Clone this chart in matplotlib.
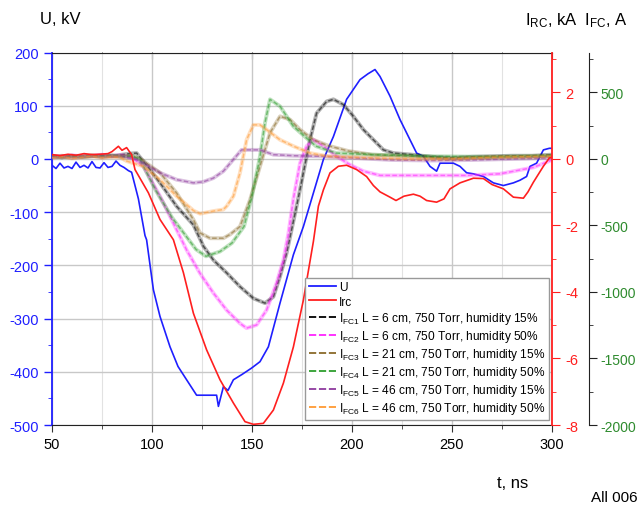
import matplotlib
matplotlib.use("Agg")
import matplotlib.pyplot as plt
from matplotlib.lines import Line2D
from matplotlib.ticker import MultipleLocator

plt.rcParams["font.family"] = ["Liberation Sans", "DejaVu Sans"]
plt.rcParams["mathtext.fontset"] = "custom"
plt.rcParams["mathtext.rm"] = "Liberation Sans"
plt.rcParams["mathtext.it"] = "Liberation Sans"
plt.rcParams["axes.unicode_minus"] = False

# voltage, kV
u_t = [50, 52, 54, 56, 58, 60, 62, 64, 66, 68, 70, 72, 74, 76, 78, 80, 82, 84, 86, 88.2,
       89.8, 93.2, 96.5, 97.3, 100.7, 104, 109, 113, 117.3, 122.3, 132.3, 133.2, 135.7, 138,
       140.7, 145, 149.8, 154, 158.2, 164, 170.7, 175.7, 180.7, 185.7, 190.7, 197.3, 204, 208,
       211.5, 214, 219, 224, 229, 232.3, 235.7, 239, 242.3, 244, 250.7, 254, 257.3, 260.7,
       265.7, 270.7, 275.7, 280.7, 284, 287.3, 289, 292.3, 295.7, 298.7, 300]
u_kv = [-12, -18, -8, -17, -14, -18, -6, -16, -12, -17, -5, -16, -17, -7, -16, -14, -4, -12,
        -16, -22, -25, -75, -144, -152, -246, -296, -353, -390, -415, -444, -444, -465, -428,
        -435, -415, -405, -393, -381, -353, -271, -180, -127, -64, -1, 42, 112, 149, 160, 168,
        155, 118, 74, 36, 11, 5, -14, -23, -8, -8, -14, -26, -28, -33, -45, -50, -45, -40, -33,
        -14, -8, 17, 20, 20]

# return-conductor current, kA
irc_t = [50, 54, 58, 62, 66, 70, 74, 78, 80, 83.2, 85, 87.3, 89.8, 91.5, 98.2, 104, 110.7,
         115.7, 120.7, 127.3, 134, 140.7, 146.5, 150.7, 155.7, 160.7, 165.7, 170.7, 175.7,
         180.7, 183.2, 185.7, 189, 193.2, 197.3, 202.3, 207.3, 210.7, 214, 219, 222, 226,
         230.7, 234, 237.3, 242.3, 246, 249, 254, 260.7, 265.7, 270, 275.7, 280.7, 285.7, 288,
         290.7, 295.7, 298.7, 300]
irc_ka = [0.13, 0.10, 0.14, 0.11, 0.16, 0.13, 0.14, 0.16, 0.22, 0.38, 0.26, 0.34, 0.13, -0.32,
          -1.02, -1.82, -2.43, -3.42, -4.64, -5.74, -6.64, -7.34, -7.90, -7.98, -7.95, -7.55,
          -6.74, -5.65, -4.24, -2.48, -1.42, -0.93, -0.42, -0.22, -0.19, -0.32, -0.53, -0.80,
          -0.99, -1.15, -1.25, -1.12, -1.06, -1.12, -1.25, -1.30, -1.20, -0.90, -0.72, -0.58,
          -0.59, -0.77, -0.90, -1.15, -1.18, -0.99, -0.70, -0.22, 0.03, 0.05]

# Faraday cup currents, A
fc1_t = [50, 55, 60, 65, 70, 75, 80, 85, 89, 92.3, 98, 104, 112.3, 120.7, 125.7, 130.7, 137.3,
         144, 150.7, 156.5, 160.7, 164, 167.3, 172.3, 175.7, 179, 182.3, 187.3, 190.7, 195.7,
         200.7, 205.7, 210.7, 215.7, 220.7, 230, 240, 250, 260, 270, 280, 290, 300]
fc1_a = [20, 12, 24, 16, 20, 28, 20, 32, 40, 44, -60, -180, -356, -496, -656, -760, -856, -960,
         -1048, -1084, -1036, -884, -708, -356, -104, 144, 344, 432, 448, 408, 320, 220, 144,
         68, 44, 32, 16, 8, 16, 20, 24, 24, 32]

fc2_t = [50, 55, 60, 65, 70, 75, 80, 85, 90, 95.7, 104, 112.3, 117.3, 124, 130.7, 137.3, 144,
         147.3, 152.3, 157.3, 162.3, 165.7, 168.2, 170.7, 174, 177.3, 180.7, 185.7, 192.3, 199,
         205.7, 214, 224, 240.7, 257.3, 274, 290.7, 297.3, 300]
fc2_a = [24, 16, 28, 20, 24, 32, 24, 28, 12, -56, -280, -532, -684, -860, -1008, -1136, -1236,
         -1272, -1248, -1136, -932, -760, -560, -300, -32, 96, 144, 96, 20, -44, -92, -124, -124,
         -124, -124, -112, -64, -24, -8]

fc3_t = [50, 55, 60, 65, 70, 75, 80, 85, 90, 95, 104, 112.3, 120.7, 124, 129, 135.7, 139, 144,
         149, 154, 159, 164, 169, 174, 180.7, 188, 198, 210, 230, 250, 270, 300]
fc3_a = [16, 24, 12, 20, 28, 16, 24, 20, 24, -8, -104, -256, -456, -556, -596, -596, -568, -508,
         -308, -56, 196, 320, 296, 220, 144, 100, 60, 32, 20, 0, 12, 20]

fc4_t = [50, 55, 60, 65, 70, 75, 80, 85, 90, 94, 102, 110, 117, 122, 127, 134, 140, 146, 150,
         154, 156.5, 159, 164, 170.7, 177, 182, 192, 210, 240, 270, 300]
fc4_a = [20, 12, 24, 16, 24, 20, 28, 16, 20, -4, -240, -440, -580, -680, -732, -696, -632, -508,
         -280, 20, 272, 448, 396, 244, 160, 96, 44, 32, 20, 16, 24]

fc5_t = [50, 55, 60, 65, 70, 75, 80, 85, 92.3, 104, 112.3, 120.7, 125.7, 130.7, 135.7, 140.7,
         144.8, 154, 160.7, 171, 184, 200, 220, 240, 260, 280, 300]
fc5_a = [12, 20, 8, 16, 24, 12, 20, 16, -4, -104, -156, -180, -172, -144, -92, -4, 68, 68, 32,
         24, 20, 8, -8, -12, -8, 0, 8]

fc6_t = [50, 55, 60, 65, 70, 75, 80, 84, 87.3, 95.7, 104, 112.3, 120.7, 124, 130.7, 135.7,
         137.3, 140.7, 144, 147.3, 150.7, 154, 157.3, 164, 170.7, 179, 188, 210, 230, 250, 270,
         300]
fc6_a = [8, 16, 4, 12, 20, 8, 16, 12, -16, -56, -156, -280, -388, -412, -392, -380, -356, -280,
         -104, 144, 256, 256, 220, 144, 96, 44, 20, 8, 0, 0, 12, 20]

fc_labels = [
    r"I$_{\mathregular{FC1}}$ L = 6 cm, 750 Torr, humidity 15%",
    r"I$_{\mathregular{FC2}}$ L = 6 cm, 750 Torr, humidity 50%",
    r"I$_{\mathregular{FC3}}$ L = 21 cm, 750 Torr, humidity 15%",
    r"I$_{\mathregular{FC4}}$ L = 21 cm, 750 Torr, humidity 50%",
    r"I$_{\mathregular{FC5}}$ L = 46 cm, 750 Torr, humidity 15%",
    r"I$_{\mathregular{FC6}}$ L = 46 cm, 750 Torr, humidity 50%",
]
fc_colors = ["#000000", "#ff22ff", "#8a6a2a", "#2e9e2e", "#8e3a9e", "#ff9a33"]
fc_series = [(fc1_t, fc1_a), (fc2_t, fc2_a), (fc3_t, fc3_a),
             (fc4_t, fc4_a), (fc5_t, fc5_a), (fc6_t, fc6_a)]

BLUE = "#1f1fff"
RED = "#ff1f1f"
GREEN = "#2e8b2e"

fig = plt.figure(figsize=(6.41, 5.10), dpi=100)
ax = fig.add_axes([52 / 641, 1 - 426 / 510, 500 / 641, 372.5 / 510])
ax_g = ax.twinx()
ax_r = ax.twinx()

# IFC traces: soft wide line with a dashed core
for (t, a), c in zip(fc_series, fc_colors):
    ax_g.plot(t, a, color=c, lw=2.8, alpha=0.3, solid_capstyle="round")
    ax_g.plot(t, a, color=c, lw=1.1, alpha=0.55, ls=(0, (3, 1.5)))

ax.plot(u_t, u_kv, color=BLUE, lw=1.2)
ax_r.plot(irc_t, irc_ka, color=RED, lw=1.2)

# U axis
ax.set_xlim(50, 300)
ax.set_ylim(-500, 200)
ax.xaxis.set_major_locator(MultipleLocator(50))
ax.xaxis.set_minor_locator(MultipleLocator(25))
ax.yaxis.set_major_locator(MultipleLocator(100))
ax.yaxis.set_minor_locator(MultipleLocator(50))
ax.grid(True, which="major", color="#c8c8c8", lw=1)
ax.grid(True, which="minor", axis="x", color="#e2e2e2", lw=0.8)
ax.set_axisbelow(True)
ax.tick_params(axis="x", which="both", direction="out", labelsize=10.5, color="#333333")
ax.tick_params(axis="x", which="major", length=5)
ax.tick_params(axis="x", which="minor", length=3)
ax.tick_params(axis="y", which="both", colors=BLUE, labelsize=10.5)
ax.tick_params(axis="y", which="major", length=6, width=1)
ax.tick_params(axis="y", which="minor", length=3)
ax.spines["left"].set_color(BLUE)
ax.spines["left"].set_linewidth(1.3)
ax.spines["right"].set_visible(False)
ax.spines["top"].set_color("#222222")
ax.spines["bottom"].set_color("#222222")

top = ax.secondary_xaxis("top")
top.xaxis.set_major_locator(MultipleLocator(50))
top.xaxis.set_minor_locator(MultipleLocator(25))
top.tick_params(which="both", direction="in", labeltop=False, color="#333333")
top.tick_params(which="major", length=5)
top.tick_params(which="minor", length=3)
top.spines["top"].set_visible(False)

# Irc axis
ax_r.set_ylim(-8, 3.2)
ax_r.yaxis.set_major_locator(MultipleLocator(2))
ax_r.yaxis.set_minor_locator(MultipleLocator(1))
ax_r.tick_params(axis="y", which="both", colors=RED, labelsize=10.5)
ax_r.tick_params(axis="y", which="major", length=6)
ax_r.tick_params(axis="y", which="minor", length=3)
for s in ["left", "top", "bottom"]:
    ax_r.spines[s].set_visible(False)
ax_r.spines["right"].set_color(RED)
ax_r.spines["right"].set_linewidth(1.3)

# IFC axis, offset to the right
ax_g.set_ylim(-2000, 800)
ax_g.spines["right"].set_position(("axes", 1.074))
for s in ["left", "top", "bottom"]:
    ax_g.spines[s].set_visible(False)
ax_g.spines["right"].set_color("#222222")
ax_g.yaxis.set_major_locator(MultipleLocator(500))
ax_g.yaxis.set_minor_locator(MultipleLocator(250))
ax_g.tick_params(axis="y", which="both", color="#222222", labelcolor=GREEN, labelsize=10)
ax_g.tick_params(axis="y", which="major", length=6, pad=2.5)
ax_g.tick_params(axis="y", which="minor", length=3)

handles = [Line2D([], [], color=BLUE, lw=1.3), Line2D([], [], color=RED, lw=1.3)]
handles += [Line2D([], [], color=c, lw=1.3, ls=(0, (4, 1.5))) for c in fc_colors]
labels = ["U", "Irc"] + fc_labels
leg = ax_r.legend(handles, labels, loc="upper left", bbox_to_anchor=(0.506, 0.395),
                  fontsize=8.6, frameon=True, fancybox=False, edgecolor="#999999",
                  framealpha=1, borderpad=0.3, labelspacing=0.18, handlelength=2.3,
                  handletextpad=0.25, borderaxespad=0)
leg.get_frame().set_linewidth(1.0)

fig.text(40 / 641, 1 - 20 / 510, "U, kV", fontsize=12, va="center", ha="left")
fig.text(628 / 641, 1 - 21 / 510, r"I$_{\mathregular{RC}}$, kA  I$_{\mathregular{FC}}$, A",
         fontsize=12, va="center", ha="right")
fig.text(513 / 641, 1 - 484 / 510, "t, ns", fontsize=12, va="center", ha="center")
fig.text(638 / 641, 1 - 498 / 510, "All 006", fontsize=11, va="center", ha="right")

fig.savefig("out.png", dpi=100)
